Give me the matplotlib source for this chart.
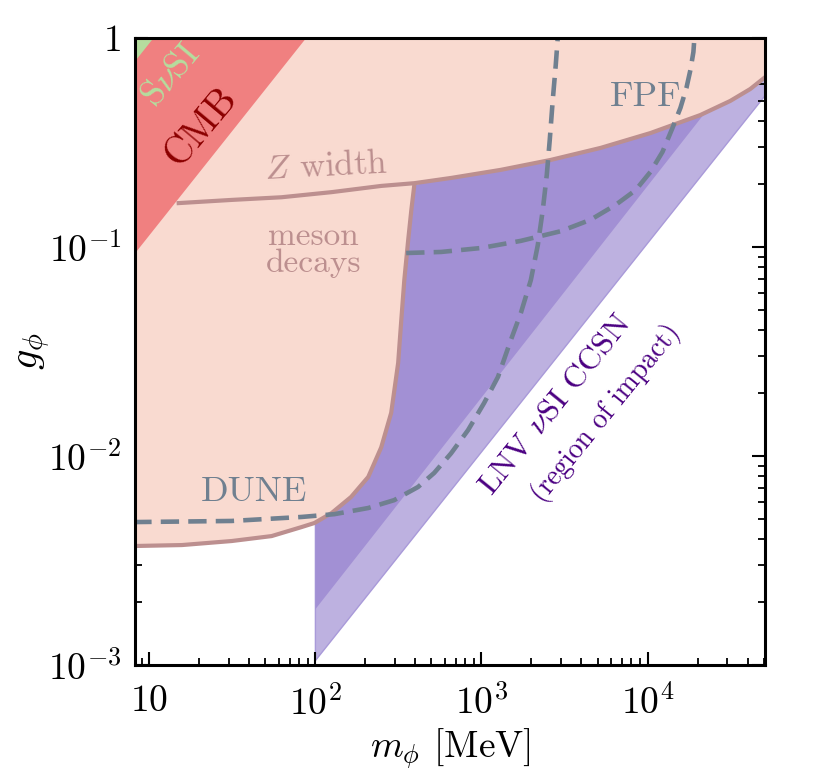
import matplotlib
matplotlib.use("Agg")
import matplotlib.pyplot as plt

plt.rcParams['font.family'] = 'serif'
plt.rcParams['font.serif'] = ['cmr10']
plt.rcParams['mathtext.fontset'] = 'cm'
plt.rcParams['axes.formatter.use_mathtext'] = True

# existing bound: meson decays / DUNE (lower edge of the pink region)
meson_m = [8, 15.7, 31.3, 54.5, 82.4, 98.6, 125, 164, 208, 249, 286, 315, 329,
           343, 362, 378, 394]
meson_g = [3.71e-3, 3.75e-3, 3.92e-3, 4.14e-3, 4.57e-3, 4.78e-3, 5.33e-3, 6.37e-3,
           7.94e-3, 1.10e-2, 1.61e-2, 2.79e-2, 4.48e-2, 6.95e-2, 0.108, 0.150, 0.198]

# Z width and upper boundary of the excluded region
zw_m = [14.6, 31.3, 62.5, 125, 249, 394, 656, 1309, 2611, 5220, 10420, 20800,
        31500, 41550, 51100]
zw_g = [0.162, 0.168, 0.173, 0.183, 0.196, 0.202, 0.214, 0.234, 0.261, 0.298,
        0.351, 0.428, 0.500, 0.570, 0.650]

# CMB and SnuSI corners
cmb_m = [8.0, 88.0]
cmb_g = [0.091, 1.0]
snu_m = [8.0, 10.6]
snu_g = [0.755, 1.0]

# CCSN region of impact (lower edges)
dark_m = [100, 21000, 52000]
dark_g = [1.85e-3, 0.415, 1.0]
light_m = [100, 52000]
light_g = [1.05e-3, 0.54]

# projected sensitivities
dune_m = [8, 31.3, 82.4, 130, 208, 298, 415, 519, 656, 830, 1036, 1257, 1503,
          1726, 1983, 2183, 2339, 2473, 2577, 2687, 2801, 2879]
dune_g = [4.83e-3, 4.89e-3, 5.11e-3, 5.27e-3, 5.64e-3, 6.15e-3, 7.11e-3, 8.30e-3,
          1.03e-2, 1.33e-2, 1.79e-2, 2.39e-2, 3.59e-2, 4.83e-2, 6.95e-2, 0.102,
          0.150, 0.221, 0.325, 0.505, 0.743, 1.0]
fpf_m = [352, 571, 993, 1726, 3000, 4540, 6420, 8470, 10420, 12300, 14130, 15780,
         17140, 18120, 18890, 19150]
fpf_g = [0.0936, 0.0947, 0.0989, 0.107, 0.119, 0.135, 0.159, 0.187, 0.229, 0.285,
         0.371, 0.463, 0.576, 0.703, 0.857, 1.0]

xmin, xmax = 8.2, 5.1e4
ymin, ymax = 1e-3, 1.0

fig = plt.figure(figsize=(8.13, 7.77), dpi=100)
ax = fig.add_axes([0.1661, 0.1441, 0.7749, 0.807])
ax.set_xscale('log')
ax.set_yscale('log')

# purple regions
ax.fill(light_m + [light_m[-1], light_m[0]], light_g + [1.0, 1.0],
        color='#bdb1e0', ec='#a99ad9', lw=1, zorder=1)
ax.fill(dark_m + [dark_m[-1], dark_m[0]], dark_g + [1.0, 1.0],
        color='#a290d4', lw=0, zorder=2)

# pink excluded region
pink_m = meson_m + zw_m[6:] + [zw_m[-1], meson_m[0]]
pink_g = meson_g + zw_g[6:] + [1.0, 1.0]
ax.fill(pink_m, pink_g, color='#f9dad0', lw=0, zorder=3)
ax.plot(meson_m, meson_g, color='#bc8f8f', lw=3, zorder=4, solid_capstyle='butt')
ax.plot(zw_m, zw_g, color='#bc8f8f', lw=3, zorder=4, solid_capstyle='butt')

ax.fill(cmb_m + [cmb_m[0]], cmb_g + [1.0], color='#f08080', lw=0, zorder=5)
ax.fill(snu_m + [snu_m[0]], snu_g + [1.0], color='#b5dd9e', lw=0, zorder=6)

ax.plot(dune_m, dune_g, color='#708090', lw=3.3, ls=(0, (4, 2)), zorder=7)
ax.plot(fpf_m, fpf_g, color='#708090', lw=3.3, ls=(0, (4, 2)), zorder=7)

ax.text(13.6, 0.665, r'S$\nu$SI', color='#b5dd9e', fontsize=26, rotation=50,
        ha='center', va='center', zorder=8)
ax.text(20.7, 0.375, 'CMB', color='#8b0000', fontsize=28, rotation=50,
        ha='center', va='center', zorder=8)
ax.text(116, 0.241, r'$Z$ width', color='#bc8f8f', fontsize=25, rotation=3,
        ha='center', va='center', zorder=8)
ax.text(97.3, 0.0968, 'meson\ndecays', color='#bc8f8f', fontsize=24,
        ha='center', va='center', linespacing=0.9, zorder=8)
ax.text(42.5, 6.73e-3, 'DUNE', color='#708090', fontsize=26,
        ha='center', va='center', zorder=8)
ax.text(9730, 0.522, 'FPF', color='#708090', fontsize=26,
        ha='center', va='center', zorder=8)
ax.text(2800, 0.01754, r'LNV $\nu$SI CCSN', color='#4b0082', fontsize=23,
        rotation=51, ha='center', va='center', zorder=8)
ax.text(5600, 0.01606, '(region of impact)', color='#4b0082', fontsize=20,
        rotation=51, ha='center', va='center', zorder=8)

ax.set_xlim(xmin, xmax)
ax.set_ylim(ymin, ymax)
ax.set_xticks([10, 100, 1000, 10000], [r'$10$', r'$10^2$', r'$10^3$', r'$10^4$'])
ax.set_yticks([1e-3, 1e-2, 1e-1, 1], [r'$10^{-3}$', r'$10^{-2}$', r'$10^{-1}$', r'$1$'])
ax.xaxis.set_minor_formatter(matplotlib.ticker.NullFormatter())
ax.yaxis.set_minor_formatter(matplotlib.ticker.NullFormatter())
ax.tick_params(which='both', direction='in', top=True, right=True, labelsize=27)
ax.tick_params(which='major', length=9.5, width=1.5)
ax.tick_params(which='minor', length=5, width=1.3)
ax.tick_params(axis='x', which='major', pad=14)
ax.tick_params(axis='y', which='major', pad=10)
for s in ax.spines.values():
    s.set_linewidth(2.2)
    s.set_zorder(10)

ax.set_xlabel(r'$m_\phi$ [MeV]', fontsize=27, labelpad=4)
ax.set_ylabel(r'$g_\phi$', fontsize=29, labelpad=-4)

fig.savefig('out.png', dpi=100)
